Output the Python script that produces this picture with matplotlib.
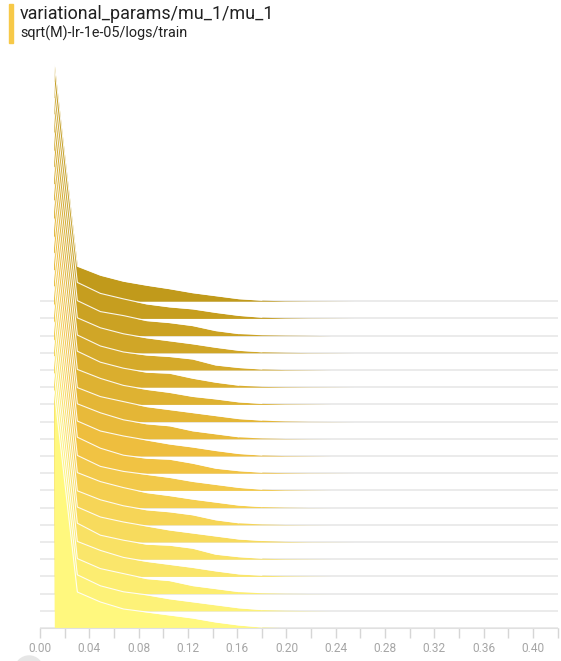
import numpy as np
import matplotlib.pyplot as plt
from matplotlib.colors import LinearSegmentedColormap
from matplotlib.patches import Circle, Rectangle

plt.rcParams['font.family'] = ['Roboto', 'DejaVu Sans']

# bin centres of the histogram (value of mu_1)
bin_x = [0.0116, 0.0303, 0.0490, 0.0677, 0.0864, 0.1051, 0.1238, 0.1425,
         0.1612, 0.1799, 0.1986, 0.2173, 0.2360, 0.2547, 0.2734, 0.2921,
         0.3108, 0.3295, 0.3482, 0.3669, 0.3856, 0.4043, 0.4200]

# counts per step, oldest (back) first -> newest (front) last
hists = [
    [237, 35, 26, 20, 16, 12.5, 8.5, 5.5, 2.5, 1.0, 0.4, 0.2, 0.1],
    [236, 36, 25, 19.5, 14.5, 11.5, 9.5, 6, 3, 1.2, 0.5, 0.2, 0.1],
    [237, 35, 24, 20, 15, 13, 10, 5, 2, 0.8, 0.4, 0.2],
    [238, 35, 25, 19, 15, 12, 9, 5.5, 2.5, 1, 0.5, 0.2, 0.1],
    [237, 35, 24, 18, 15, 13.5, 11, 5, 2.5, 1, 0.4, 0.2],
    [236, 36, 25, 19, 15, 14, 9, 5, 2, 0.8, 0.4, 0.2, 0.1],
    [237, 35, 26, 19, 15, 12, 8, 5.5, 2.5, 1, 0.4, 0.2],
    [237, 34, 25, 20, 15, 12, 9, 6, 3, 1.5, 0.6, 0.2, 0.1],
    [238, 35, 26, 19, 15, 13, 8, 5, 2, 0.8, 0.3, 0.1],
    [237, 35, 25, 20, 16, 12, 9, 5.5, 2.5, 1, 0.4, 0.2],
    [236, 36, 25, 18, 15, 14, 10, 5, 2.5, 1, 0.5, 0.2, 0.1],
    [237, 35, 24, 19, 16, 13, 9, 6, 3, 1.2, 0.5, 0.2],
    [237, 35, 26, 20, 15, 12, 8.5, 5.5, 2.5, 1, 0.4, 0.1],
    [238, 34, 25, 19, 15, 13, 10, 5, 2, 0.8, 0.3, 0.1],
    [237, 35, 25, 20, 16, 12, 9, 6, 3, 1.5, 0.6, 0.2, 0.1],
    [237, 36, 24, 19, 15, 14, 11, 5, 2.5, 1, 0.4, 0.2],
    [236, 35, 26, 19, 15, 12, 9, 5.5, 2.5, 1.2, 0.5, 0.2],
    [237, 35, 25, 20, 15, 13, 8, 5, 2, 0.8, 0.3, 0.1],
    [237, 36, 25, 19, 16, 12, 9, 6, 3, 1.2, 0.5, 0.2],
    [237, 36, 26, 19, 16, 13, 10, 6, 3, 1, 0.4, 0.1],
]
step = 17.2  # vertical offset between steps

fig = plt.figure(figsize=(5.61, 6.61), dpi=100)
ax = fig.add_axes([40/561, 33/661, 518/561, 568/661])
ax.set_xlim(0, 0.4203)
ax.set_ylim(0, 568)

n = len(hists)
cmap = LinearSegmentedColormap.from_list('tb', ['#C19A1B', '#F0C040', '#FFF87E'])
for i, h in enumerate(hists):
    off = (n - 1 - i) * step
    vals = np.array(h + [0] * (len(bin_x) - len(h)), dtype=float)
    col = cmap(i / (n - 1))
    ax.plot([0, 0.4203], [off, off], color='#E8E8E8', lw=1.2, zorder=2,
            solid_capstyle='butt')
    ax.fill_between(bin_x, off, off + vals, color=col, lw=0, zorder=2)
    # white outline only where there is mass
    last = int(np.nonzero(vals >= 1)[0][-1]) + 1
    ax.plot(bin_x[:last], off + vals[:last], color='white', lw=0.8,
            alpha=0.9, zorder=2)

ax.set_xticks(np.arange(0, 0.4201, 0.04))
ax.set_xticks(np.arange(0, 0.4201, 0.02), minor=True)
ax.set_xticklabels([f'{v:.2f}' for v in np.arange(0, 0.4201, 0.04)])
ax.tick_params(axis='x', which='both', length=7, width=1, color='#D6D6D6',
               labelcolor='#A6A6A6', labelsize=8.6, pad=3)
ax.set_yticks([])
for s in ['top', 'right', 'left']:
    ax.spines[s].set_visible(False)
ax.spines['bottom'].set_color('#E0E0E0')
ax.spines['bottom'].set_zorder(3)

# header
fig.add_artist(Rectangle((9/561, 1 - 43/661), 4/561, 39/661,
                         transform=fig.transFigure, color='#F7C948'))
fig.text(20/561, 1 - 14/661, 'variational_params/mu_1/mu_1', fontsize=12.9,
         va='center', color='#212121')
fig.text(20/561, 1 - 33/661, 'sqrt(M)-lr-1e-05/logs/train', fontsize=10.4,
         va='center', color='#212121')

fig.add_artist(Circle((29, -9), 14, transform=None, color='#E6E6E6'))

fig.savefig('out.png', dpi=100)
